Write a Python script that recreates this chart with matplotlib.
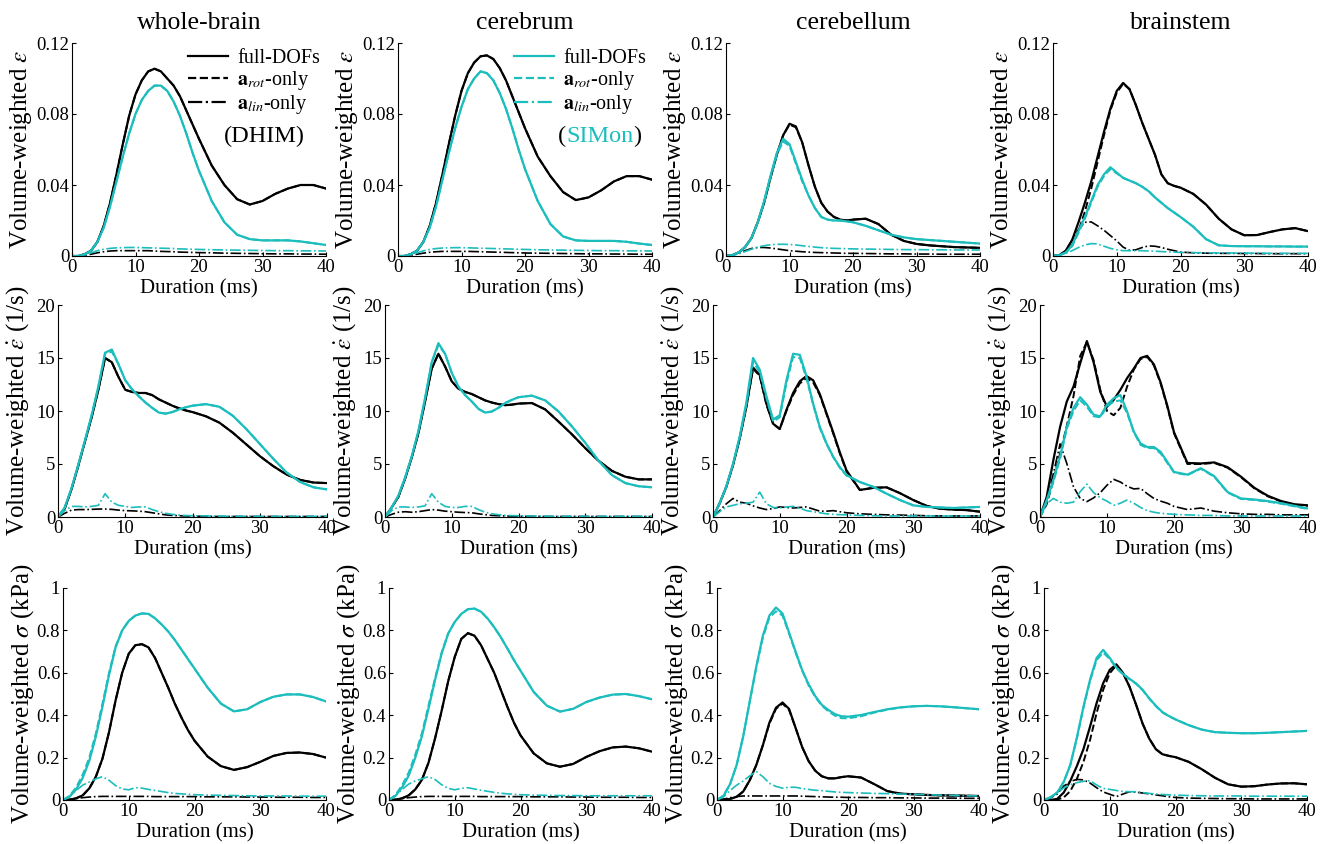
import matplotlib.pyplot as plt
from matplotlib.lines import Line2D

plt.rcParams["font.family"] = "Liberation Serif"
plt.rcParams["mathtext.fontset"] = "stix"

CYAN = "#1CBDBD"

# time axis (ms): 1 ms steps up to 20 ms, then 2 ms steps
T = list(range(0, 21)) + list(range(22, 41, 2))

REGIONS = ["whole-brain", "cerebrum", "cerebellum", "brainstem"]

# ---------------- volume-weighted strain ----------------
WB_EPS_DHIM_FULL = [0, 0, 0.001, 0.003, 0.008, 0.017, 0.030, 0.046, 0.063, 0.079, 0.091, 0.099, 0.104, 0.1055, 0.104, 0.100, 0.096, 0.090, 0.082, 0.074, 0.066,
                    0.051, 0.040, 0.032, 0.029, 0.031, 0.035, 0.038, 0.040, 0.040, 0.038]
WB_EPS_DHIM_ROT = [0, 0, 0.001, 0.003, 0.008, 0.017, 0.030, 0.046, 0.063, 0.079, 0.091, 0.099, 0.104, 0.1055, 0.104, 0.100, 0.096, 0.090, 0.082, 0.074, 0.066,
                   0.051, 0.040, 0.032, 0.029, 0.031, 0.035, 0.038, 0.040, 0.040, 0.038]
WB_EPS_DHIM_LIN = [0, 0, 0.0005, 0.001, 0.0018, 0.0024, 0.0028, 0.003, 0.003, 0.003, 0.003, 0.003, 0.003, 0.0028, 0.0026, 0.0025, 0.0024, 0.0022, 0.0021, 0.002, 0.0019,
                   0.0018, 0.0016, 0.0015, 0.0014, 0.0013, 0.0012, 0.0012, 0.0011, 0.0011, 0.001]
WB_EPS_SIMON_FULL = [0, 0, 0.001, 0.003, 0.008, 0.016, 0.028, 0.042, 0.056, 0.069, 0.080, 0.088, 0.093, 0.096, 0.096, 0.093, 0.087, 0.079, 0.069, 0.058, 0.048,
                     0.031, 0.019, 0.012, 0.0095, 0.0088, 0.0088, 0.0088, 0.0082, 0.0072, 0.0062]
WB_EPS_SIMON_ROT = [0, 0, 0.001, 0.003, 0.008, 0.016, 0.028, 0.042, 0.056, 0.069, 0.080, 0.088, 0.093, 0.096, 0.096, 0.093, 0.087, 0.079, 0.069, 0.058, 0.048,
                    0.031, 0.019, 0.012, 0.0095, 0.0088, 0.0088, 0.0088, 0.0082, 0.0072, 0.0062]
WB_EPS_SIMON_LIN = [0, 0, 0.0008, 0.0018, 0.003, 0.0038, 0.0043, 0.0046, 0.0047, 0.0048, 0.0048, 0.0047, 0.0046, 0.0045, 0.0044, 0.0043, 0.0042, 0.004, 0.0039, 0.0038, 0.0037,
                    0.0035, 0.0034, 0.0033, 0.0032, 0.0031, 0.003, 0.003, 0.0029, 0.0029, 0.0028]

CR_EPS_DHIM_FULL = [0, 0, 0.001, 0.003, 0.008, 0.017, 0.030, 0.046, 0.063, 0.079, 0.093, 0.103, 0.109, 0.1125, 0.113, 0.111, 0.106, 0.099, 0.090, 0.081, 0.072,
                    0.056, 0.045, 0.036, 0.0315, 0.033, 0.037, 0.042, 0.045, 0.045, 0.043]
CR_EPS_DHIM_ROT = [0, 0, 0.001, 0.003, 0.008, 0.017, 0.030, 0.046, 0.063, 0.079, 0.093, 0.103, 0.109, 0.1125, 0.113, 0.111, 0.106, 0.099, 0.090, 0.081, 0.072,
                   0.056, 0.045, 0.036, 0.0315, 0.033, 0.037, 0.042, 0.045, 0.045, 0.043]
CR_EPS_DHIM_LIN = [0, 0, 0.0005, 0.001, 0.0016, 0.0021, 0.0024, 0.0026, 0.0026, 0.0026, 0.0026, 0.0026, 0.0025, 0.0024, 0.0023, 0.0022, 0.0021, 0.002, 0.0019, 0.0018, 0.0017,
                   0.0016, 0.0015, 0.0014, 0.0013, 0.0012, 0.0012, 0.0011, 0.0011, 0.001, 0.001]
CR_EPS_SIMON_FULL = [0, 0, 0.001, 0.003, 0.008, 0.016, 0.028, 0.043, 0.058, 0.072, 0.084, 0.094, 0.100, 0.104, 0.103, 0.099, 0.092, 0.083, 0.072, 0.060, 0.049,
                     0.031, 0.018, 0.011, 0.0088, 0.0085, 0.0085, 0.0085, 0.008, 0.007, 0.0062]
CR_EPS_SIMON_ROT = [0, 0, 0.001, 0.003, 0.008, 0.016, 0.028, 0.043, 0.058, 0.072, 0.084, 0.094, 0.100, 0.104, 0.103, 0.099, 0.092, 0.083, 0.072, 0.060, 0.049,
                    0.031, 0.018, 0.011, 0.0088, 0.0085, 0.0085, 0.0085, 0.008, 0.007, 0.0062]
CR_EPS_SIMON_LIN = [0, 0, 0.0008, 0.0018, 0.0029, 0.0037, 0.0042, 0.0045, 0.0046, 0.0047, 0.0047, 0.0046, 0.0045, 0.0044, 0.0043, 0.0042, 0.0041, 0.004, 0.0039, 0.0038, 0.0037,
                    0.0035, 0.0034, 0.0033, 0.0032, 0.0031, 0.003, 0.003, 0.0029, 0.0029, 0.0028]

CL_EPS_DHIM_FULL = [0, 0.0005, 0.002, 0.005, 0.010, 0.019, 0.030, 0.044, 0.057, 0.068, 0.0745, 0.073, 0.064, 0.051, 0.039, 0.030, 0.025, 0.022, 0.0205, 0.020, 0.0205,
                    0.021, 0.018, 0.012, 0.0085, 0.0068, 0.006, 0.0055, 0.005, 0.0048, 0.0046]
CL_EPS_DHIM_ROT = [0, 0.0005, 0.002, 0.005, 0.010, 0.019, 0.030, 0.044, 0.057, 0.068, 0.074, 0.0725, 0.064, 0.051, 0.039, 0.030, 0.025, 0.022, 0.0205, 0.020, 0.0205,
                   0.021, 0.018, 0.012, 0.0085, 0.0068, 0.006, 0.0055, 0.005, 0.0048, 0.0046]
CL_EPS_DHIM_LIN = [0, 0.0005, 0.0015, 0.003, 0.0042, 0.0048, 0.0048, 0.0045, 0.004, 0.0035, 0.003, 0.0027, 0.0024, 0.0022, 0.002, 0.0019, 0.0018, 0.0017, 0.0016, 0.0015, 0.0015,
                   0.0014, 0.0013, 0.0012, 0.0012, 0.0011, 0.0011, 0.001, 0.001, 0.001, 0.001]
CL_EPS_SIMON_FULL = [0, 0.0005, 0.002, 0.005, 0.010, 0.019, 0.031, 0.045, 0.058, 0.066, 0.063, 0.053, 0.043, 0.034, 0.027, 0.022, 0.0205, 0.020, 0.020, 0.0195, 0.019,
                     0.017, 0.0145, 0.012, 0.0105, 0.0095, 0.009, 0.0085, 0.008, 0.0075, 0.007]
CL_EPS_SIMON_ROT = [0, 0.0005, 0.002, 0.005, 0.010, 0.019, 0.030, 0.044, 0.057, 0.0645, 0.062, 0.052, 0.042, 0.034, 0.027, 0.022, 0.0205, 0.020, 0.020, 0.0195, 0.019,
                    0.017, 0.0145, 0.012, 0.0105, 0.0095, 0.009, 0.0085, 0.008, 0.0075, 0.007]
CL_EPS_SIMON_LIN = [0, 0.0004, 0.0012, 0.0025, 0.0038, 0.005, 0.0058, 0.0063, 0.0066, 0.0066, 0.0065, 0.0062, 0.0058, 0.0054, 0.005, 0.0047, 0.0045, 0.0043, 0.0042, 0.0041, 0.004,
                    0.0039, 0.0038, 0.0037, 0.0036, 0.0036, 0.0035, 0.0035, 0.0034, 0.0034, 0.0034]

BS_EPS_DHIM_FULL = [0, 0.0005, 0.003, 0.009, 0.019, 0.030, 0.042, 0.056, 0.070, 0.083, 0.093, 0.0975, 0.094, 0.085, 0.075, 0.066, 0.057, 0.046, 0.041, 0.0395, 0.0385,
                    0.035, 0.029, 0.021, 0.015, 0.0117, 0.0118, 0.0135, 0.015, 0.0157, 0.014]
BS_EPS_DHIM_ROT = [0, 0.0003, 0.002, 0.006, 0.014, 0.025, 0.038, 0.053, 0.068, 0.082, 0.092, 0.097, 0.094, 0.085, 0.075, 0.066, 0.057, 0.046, 0.041, 0.0395, 0.0385,
                   0.035, 0.029, 0.021, 0.015, 0.0117, 0.0118, 0.0135, 0.015, 0.0157, 0.014]
BS_EPS_DHIM_LIN = [0, 0.0005, 0.003, 0.009, 0.015, 0.019, 0.0192, 0.017, 0.0145, 0.0115, 0.0085, 0.005, 0.0032, 0.0035, 0.0048, 0.0057, 0.0055, 0.0048, 0.0038, 0.003, 0.0022,
                   0.0018, 0.0016, 0.0015, 0.0015, 0.0014, 0.0014, 0.0013, 0.0013, 0.0013, 0.0013]
BS_EPS_SIMON_FULL = [0, 0.0005, 0.002, 0.006, 0.014, 0.022, 0.031, 0.040, 0.046, 0.050, 0.047, 0.044, 0.0425, 0.041, 0.039, 0.0365, 0.033, 0.030, 0.027, 0.0245, 0.022,
                     0.0165, 0.0095, 0.006, 0.0056, 0.0055, 0.0055, 0.0054, 0.0054, 0.0053, 0.0053]
BS_EPS_SIMON_ROT = [0, 0.0004, 0.0018, 0.0055, 0.013, 0.021, 0.030, 0.039, 0.045, 0.049, 0.0465, 0.044, 0.0425, 0.041, 0.039, 0.0365, 0.033, 0.030, 0.027, 0.0245, 0.022,
                    0.0165, 0.0095, 0.006, 0.0056, 0.0055, 0.0055, 0.0054, 0.0054, 0.0053, 0.0053]
BS_EPS_SIMON_LIN = [0, 0.0003, 0.0015, 0.003, 0.0048, 0.0062, 0.007, 0.0068, 0.0055, 0.0043, 0.0035, 0.003, 0.003, 0.003, 0.003, 0.0028, 0.0027, 0.0025, 0.0023, 0.0022, 0.002,
                    0.0019, 0.0018, 0.0017, 0.0017, 0.0016, 0.0016, 0.0015, 0.0015, 0.0015, 0.0015]

# ---------------- volume-weighted strain rate (1/s) ----------------
WB_RATE_DHIM_FULL = [0, 0.8, 2.6, 4.8, 7.1, 9.4, 12.0, 15.0, 14.6, 13.2, 12.0, 11.8, 11.7, 11.7, 11.5, 11.1, 10.8, 10.5, 10.25, 10.05, 9.9,
                     9.5, 8.9, 7.95, 6.85, 5.75, 4.8, 4.0, 3.5, 3.25, 3.2]
WB_RATE_DHIM_ROT = [0, 0.8, 2.6, 4.8, 7.1, 9.4, 12.0, 15.0, 14.6, 13.2, 12.0, 11.8, 11.7, 11.7, 11.5, 11.1, 10.8, 10.5, 10.25, 10.05, 9.9,
                    9.5, 8.9, 7.95, 6.85, 5.75, 4.8, 4.0, 3.5, 3.25, 3.2]
WB_RATE_DHIM_LIN = [0, 0.35, 0.65, 0.7, 0.7, 0.72, 0.75, 0.75, 0.72, 0.65, 0.6, 0.58, 0.55, 0.5, 0.4, 0.3, 0.2, 0.15, 0.12, 0.1, 0.08,
                    0.06, 0.05, 0.05, 0.05, 0.05, 0.05, 0.05, 0.05, 0.05, 0.05]
WB_RATE_SIMON_FULL = [0, 0.9, 2.7, 4.9, 7.2, 9.6, 12.3, 15.5, 15.8, 14.4, 12.9, 12.05, 11.4, 10.8, 10.3, 9.85, 9.75, 9.9, 10.15, 10.35, 10.5,
                      10.65, 10.4, 9.55, 8.3, 6.9, 5.5, 4.2, 3.3, 2.8, 2.6]
WB_RATE_SIMON_ROT = [0, 0.9, 2.7, 4.9, 7.2, 9.6, 12.3, 15.4, 15.6, 14.4, 12.9, 12.05, 11.4, 10.8, 10.3, 9.85, 9.75, 9.9, 10.15, 10.35, 10.5,
                     10.65, 10.4, 9.55, 8.3, 6.9, 5.5, 4.2, 3.3, 2.8, 2.6]
WB_RATE_SIMON_LIN = [0, 0.6, 1.0, 1.0, 0.95, 1.0, 1.1, 2.2, 1.4, 1.1, 1.0, 0.9, 0.95, 0.95, 0.7, 0.5, 0.35, 0.25, 0.18, 0.14, 0.12,
                     0.1, 0.08, 0.07, 0.07, 0.06, 0.06, 0.06, 0.06, 0.06, 0.06]

CR_RATE_DHIM_FULL = [0, 0.9, 1.9, 3.6, 5.6, 7.9, 10.9, 14.0, 15.4, 14.2, 12.8, 12.1, 11.8, 11.6, 11.3, 11.0, 10.8, 10.65, 10.55, 10.6, 10.7,
                     10.75, 10.15, 9.0, 7.8, 6.5, 5.3, 4.35, 3.8, 3.55, 3.55]
CR_RATE_DHIM_ROT = [0, 0.9, 1.9, 3.6, 5.6, 7.9, 10.9, 14.0, 15.4, 14.2, 12.8, 12.1, 11.8, 11.6, 11.3, 11.0, 10.8, 10.65, 10.55, 10.6, 10.7,
                    10.75, 10.15, 9.0, 7.8, 6.5, 5.3, 4.35, 3.8, 3.55, 3.55]
CR_RATE_DHIM_LIN = [0, 0.25, 0.45, 0.5, 0.45, 0.5, 0.6, 0.7, 0.65, 0.55, 0.5, 0.45, 0.42, 0.4, 0.3, 0.22, 0.15, 0.12, 0.1, 0.08, 0.07,
                    0.06, 0.05, 0.05, 0.05, 0.05, 0.05, 0.05, 0.05, 0.05, 0.05]
CR_RATE_SIMON_FULL = [0, 0.9, 2.0, 3.7, 5.7, 8.1, 11.2, 14.6, 16.4, 15.4, 13.6, 12.3, 11.5, 10.9, 10.2, 9.85, 9.95, 10.3, 10.75, 11.05, 11.3,
                      11.45, 11.0, 9.95, 8.55, 7.0, 5.3, 3.95, 3.2, 2.9, 2.8]
CR_RATE_SIMON_ROT = [0, 0.9, 2.0, 3.7, 5.7, 8.1, 11.2, 14.6, 16.2, 15.4, 13.6, 12.3, 11.5, 10.9, 10.2, 9.85, 9.95, 10.3, 10.75, 11.05, 11.3,
                     11.45, 11.0, 9.95, 8.55, 7.0, 5.3, 3.95, 3.2, 2.9, 2.8]
CR_RATE_SIMON_LIN = [0, 0.6, 0.95, 0.95, 0.9, 0.95, 1.05, 2.2, 1.4, 1.0, 0.9, 0.9, 1.0, 1.0, 0.7, 0.45, 0.3, 0.22, 0.16, 0.13, 0.11,
                     0.09, 0.08, 0.07, 0.07, 0.06, 0.06, 0.06, 0.06, 0.06, 0.06]

CL_RATE_DHIM_FULL = [0, 1.3, 2.85, 4.9, 7.4, 10.4, 14.1, 13.4, 10.7, 8.8, 8.3, 10.1, 11.7, 12.8, 13.3, 12.9, 11.6, 9.8, 8.0, 6.1, 4.4,
                     2.55, 2.75, 2.8, 2.25, 1.6, 1.05, 0.78, 0.7, 0.65, 0.5]
CL_RATE_DHIM_ROT = [0, 1.3, 2.85, 4.9, 7.4, 10.4, 14.0, 13.3, 10.6, 8.8, 8.3, 10.0, 11.5, 12.6, 13.1, 12.7, 11.5, 9.7, 7.9, 6.0, 4.3,
                    2.55, 2.75, 2.8, 2.25, 1.6, 1.05, 0.78, 0.7, 0.65, 0.5]
CL_RATE_DHIM_LIN = [0, 0.6, 1.25, 1.75, 1.4, 1.3, 1.05, 0.85, 0.7, 0.8, 0.95, 0.9, 0.85, 0.9, 0.95, 0.75, 0.55, 0.55, 0.6, 0.5, 0.4,
                    0.3, 0.25, 0.2, 0.18, 0.15, 0.12, 0.1, 0.1, 0.1, 0.1]
CL_RATE_SIMON_FULL = [0, 1.3, 2.9, 5.0, 7.6, 10.8, 15.0, 13.9, 11.4, 9.2, 9.6, 12.9, 15.4, 15.3, 13.3, 10.7, 8.5, 6.95, 5.7, 4.7, 3.95,
                      3.3, 2.85, 2.2, 1.6, 1.1, 0.95, 0.9, 0.85, 0.9, 0.95]
CL_RATE_SIMON_ROT = [0, 1.3, 2.9, 5.0, 7.5, 10.6, 14.6, 13.7, 11.2, 9.0, 9.4, 12.6, 15.1, 15.0, 13.1, 10.6, 8.4, 6.9, 5.65, 4.65, 3.9,
                     3.3, 2.85, 2.2, 1.6, 1.1, 0.95, 0.9, 0.85, 0.9, 0.95]
CL_RATE_SIMON_LIN = [0, 0.5, 0.95, 1.1, 1.25, 1.3, 1.4, 2.35, 1.25, 0.9, 0.85, 0.95, 1.0, 0.85, 0.6, 0.5, 0.4, 0.3, 0.25, 0.22, 0.2,
                     0.15, 0.12, 0.1, 0.1, 0.1, 0.1, 0.1, 0.1, 0.1, 0.1]

BS_RATE_DHIM_FULL = [0, 1.9, 5.4, 8.5, 10.9, 12.3, 14.5, 16.6, 14.6, 11.8, 10.4, 11.05, 12.0, 13.1, 14.0, 15.0, 15.2, 14.4, 12.7, 10.5, 8.0,
                     5.1, 5.05, 5.15, 4.7, 3.8, 2.75, 2.0, 1.5, 1.2, 1.1]
BS_RATE_DHIM_ROT = [0, 1.2, 3.5, 6.0, 8.6, 11.4, 15.2, 16.5, 14.8, 12.0, 10.0, 9.6, 10.3, 12.3, 13.9, 14.9, 15.1, 14.3, 12.6, 10.4, 7.9,
                    5.0, 5.0, 5.1, 4.65, 3.75, 2.7, 1.95, 1.45, 1.15, 1.05]
BS_RATE_DHIM_LIN = [0, 1.6, 4.1, 6.9, 5.05, 2.85, 1.75, 1.45, 1.8, 2.3, 3.0, 3.55, 3.3, 2.9, 2.65, 2.7, 2.2, 1.75, 1.5, 1.3, 1.0,
                    0.7, 0.85, 0.55, 0.4, 0.3, 0.25, 0.25, 0.2, 0.2, 0.2]
BS_RATE_SIMON_FULL = [0, 1.6, 3.5, 5.7, 8.5, 10.3, 11.3, 10.6, 9.65, 9.5, 10.6, 11.2, 11.5, 9.95, 8.05, 6.95, 6.6, 6.6, 6.15, 5.2, 4.25,
                      4.0, 4.6, 3.85, 2.35, 1.75, 1.65, 1.5, 1.3, 1.05, 0.8]
BS_RATE_SIMON_ROT = [0, 1.4, 3.3, 5.5, 8.3, 10.0, 11.0, 10.4, 9.5, 9.4, 10.4, 10.9, 11.0, 9.8, 8.0, 6.8, 6.5, 6.5, 6.0, 5.1, 4.2,
                     3.95, 4.55, 3.8, 2.3, 1.7, 1.6, 1.45, 1.25, 1.0, 0.75]
BS_RATE_SIMON_LIN = [0, 1.25, 1.75, 1.4, 1.3, 1.4, 2.4, 3.1, 2.3, 1.8, 1.5, 1.1, 1.3, 1.6, 1.3, 0.9, 0.6, 0.45, 0.35, 0.3, 0.25,
                     0.2, 0.15, 0.15, 0.1, 0.1, 0.1, 0.1, 0.1, 0.1, 0.1]

# ---------------- volume-weighted stress (kPa) ----------------
WB_SIG_DHIM_FULL = [0, 0.001, 0.008, 0.022, 0.055, 0.11, 0.195, 0.32, 0.47, 0.60, 0.69, 0.73, 0.735, 0.72, 0.67, 0.60, 0.53, 0.455, 0.39, 0.33, 0.28,
                    0.205, 0.16, 0.142, 0.155, 0.18, 0.208, 0.222, 0.224, 0.217, 0.2]
WB_SIG_DHIM_ROT = [0, 0.001, 0.008, 0.022, 0.055, 0.11, 0.195, 0.32, 0.47, 0.60, 0.69, 0.73, 0.735, 0.72, 0.67, 0.60, 0.53, 0.455, 0.39, 0.33, 0.28,
                   0.205, 0.16, 0.142, 0.155, 0.18, 0.208, 0.222, 0.224, 0.217, 0.2]
WB_SIG_DHIM_LIN = [0, 0.003, 0.007, 0.011, 0.014, 0.016, 0.017, 0.017, 0.017, 0.017, 0.017, 0.017, 0.017, 0.017, 0.016, 0.016, 0.016, 0.016, 0.016, 0.016, 0.016,
                   0.015, 0.015, 0.015, 0.014, 0.014, 0.013, 0.013, 0.013, 0.012, 0.012]
WB_SIG_SIMON_FULL = [0, 0.015, 0.05, 0.105, 0.185, 0.3, 0.44, 0.59, 0.72, 0.8, 0.845, 0.87, 0.88, 0.878, 0.857, 0.828, 0.795, 0.755, 0.71, 0.665, 0.62,
                     0.53, 0.455, 0.418, 0.428, 0.462, 0.487, 0.498, 0.498, 0.486, 0.465]
WB_SIG_SIMON_ROT = [0, 0.02, 0.06, 0.12, 0.2, 0.315, 0.455, 0.6, 0.725, 0.8, 0.845, 0.87, 0.88, 0.878, 0.857, 0.828, 0.795, 0.755, 0.71, 0.665, 0.62,
                    0.53, 0.455, 0.418, 0.428, 0.462, 0.487, 0.498, 0.498, 0.486, 0.465]
WB_SIG_SIMON_LIN = [0, 0.018, 0.045, 0.07, 0.085, 0.1, 0.11, 0.093, 0.068, 0.052, 0.048, 0.058, 0.056, 0.05, 0.045, 0.04, 0.035, 0.031, 0.029, 0.027, 0.025,
                    0.023, 0.022, 0.021, 0.02, 0.019, 0.019, 0.019, 0.018, 0.018, 0.018]

CR_SIG_DHIM_FULL = [0, 0.001, 0.008, 0.022, 0.05, 0.095, 0.175, 0.29, 0.42, 0.56, 0.675, 0.76, 0.787, 0.775, 0.73, 0.665, 0.6, 0.52, 0.44, 0.365, 0.305,
                    0.22, 0.173, 0.157, 0.17, 0.203, 0.23, 0.248, 0.252, 0.244, 0.228]
CR_SIG_DHIM_ROT = [0, 0.001, 0.008, 0.022, 0.05, 0.095, 0.175, 0.29, 0.42, 0.56, 0.675, 0.76, 0.787, 0.775, 0.73, 0.665, 0.6, 0.52, 0.44, 0.365, 0.305,
                   0.22, 0.173, 0.157, 0.17, 0.203, 0.23, 0.248, 0.252, 0.244, 0.228]
CR_SIG_DHIM_LIN = [0, 0.003, 0.007, 0.011, 0.014, 0.016, 0.017, 0.017, 0.017, 0.017, 0.017, 0.017, 0.017, 0.017, 0.016, 0.016, 0.016, 0.016, 0.016, 0.016, 0.016,
                   0.015, 0.015, 0.015, 0.014, 0.014, 0.013, 0.013, 0.013, 0.012, 0.012]
CR_SIG_SIMON_FULL = [0, 0.02, 0.06, 0.115, 0.2, 0.3, 0.43, 0.565, 0.69, 0.785, 0.84, 0.878, 0.9, 0.903, 0.888, 0.856, 0.815, 0.768, 0.715, 0.66, 0.61,
                     0.51, 0.445, 0.417, 0.43, 0.462, 0.483, 0.497, 0.5, 0.49, 0.475]
CR_SIG_SIMON_ROT = [0, 0.025, 0.07, 0.13, 0.215, 0.315, 0.445, 0.575, 0.695, 0.785, 0.84, 0.878, 0.9, 0.903, 0.888, 0.856, 0.815, 0.768, 0.715, 0.66, 0.61,
                    0.51, 0.445, 0.417, 0.43, 0.462, 0.483, 0.497, 0.5, 0.49, 0.475]
CR_SIG_SIMON_LIN = [0, 0.02, 0.05, 0.075, 0.09, 0.1, 0.11, 0.097, 0.072, 0.055, 0.048, 0.055, 0.058, 0.052, 0.046, 0.041, 0.036, 0.032, 0.029, 0.027, 0.025,
                    0.023, 0.022, 0.021, 0.021, 0.02, 0.02, 0.02, 0.02, 0.02, 0.02]

CL_SIG_DHIM_FULL = [0, 0.001, 0.005, 0.015, 0.04, 0.093, 0.165, 0.258, 0.365, 0.435, 0.46, 0.43, 0.34, 0.25, 0.183, 0.138, 0.112, 0.102, 0.102, 0.108, 0.112,
                    0.106, 0.075, 0.042, 0.03, 0.027, 0.024, 0.022, 0.021, 0.02, 0.019]
CL_SIG_DHIM_ROT = [0, 0.001, 0.005, 0.015, 0.04, 0.093, 0.165, 0.258, 0.36, 0.43, 0.455, 0.425, 0.34, 0.25, 0.183, 0.138, 0.112, 0.102, 0.102, 0.108, 0.112,
                   0.106, 0.075, 0.042, 0.03, 0.027, 0.024, 0.022, 0.021, 0.02, 0.019]
CL_SIG_DHIM_LIN = [0, 0.004, 0.011, 0.016, 0.019, 0.019, 0.019, 0.019, 0.019, 0.019, 0.019, 0.019, 0.019, 0.018, 0.017, 0.016, 0.015, 0.014, 0.013, 0.013, 0.012,
                   0.012, 0.011, 0.011, 0.01, 0.01, 0.009, 0.009, 0.009, 0.008, 0.008]
CL_SIG_SIMON_FULL = [0, 0.02, 0.075, 0.165, 0.3, 0.465, 0.63, 0.775, 0.87, 0.908, 0.88, 0.79, 0.7, 0.613, 0.545, 0.49, 0.449, 0.425, 0.405, 0.395, 0.393,
                     0.401, 0.415, 0.428, 0.437, 0.442, 0.444, 0.442, 0.438, 0.433, 0.428]
CL_SIG_SIMON_ROT = [0, 0.02, 0.075, 0.165, 0.3, 0.465, 0.625, 0.765, 0.86, 0.89, 0.87, 0.785, 0.695, 0.61, 0.54, 0.485, 0.445, 0.418, 0.398, 0.386, 0.385,
                    0.395, 0.412, 0.426, 0.436, 0.442, 0.444, 0.442, 0.438, 0.433, 0.428]
CL_SIG_SIMON_LIN = [0, 0.015, 0.045, 0.07, 0.09, 0.114, 0.134, 0.11, 0.079, 0.064, 0.056, 0.06, 0.06, 0.054, 0.05, 0.046, 0.044, 0.041, 0.038, 0.036, 0.035,
                    0.033, 0.031, 0.03, 0.028, 0.027, 0.025, 0.023, 0.022, 0.02, 0.019]

BS_SIG_DHIM_FULL = [0, 0.0, 0.005, 0.035, 0.09, 0.16, 0.24, 0.346, 0.457, 0.551, 0.614, 0.64, 0.6, 0.535, 0.45, 0.36, 0.29, 0.24, 0.216, 0.208, 0.202,
                    0.18, 0.145, 0.105, 0.074, 0.063, 0.065, 0.073, 0.078, 0.079, 0.074]
BS_SIG_DHIM_ROT = [0, 0.0, 0.002, 0.012, 0.042, 0.1, 0.18, 0.283, 0.41, 0.52, 0.598, 0.635, 0.6, 0.535, 0.45, 0.36, 0.29, 0.24, 0.216, 0.208, 0.202,
                   0.18, 0.145, 0.105, 0.074, 0.063, 0.065, 0.073, 0.078, 0.079, 0.074]
BS_SIG_DHIM_LIN = [0, 0.01, 0.028, 0.065, 0.088, 0.097, 0.095, 0.08, 0.058, 0.038, 0.027, 0.016, 0.028, 0.039, 0.037, 0.033, 0.029, 0.024, 0.02, 0.015, 0.012,
                   0.009, 0.008, 0.007, 0.006, 0.006, 0.005, 0.005, 0.005, 0.005, 0.005]
BS_SIG_SIMON_FULL = [0, 0.012, 0.035, 0.085, 0.165, 0.295, 0.44, 0.567, 0.67, 0.708, 0.67, 0.625, 0.595, 0.572, 0.55, 0.52, 0.48, 0.445, 0.415, 0.396, 0.38,
                     0.353, 0.332, 0.32, 0.317, 0.315, 0.315, 0.317, 0.32, 0.323, 0.326]
BS_SIG_SIMON_ROT = [0, 0.012, 0.035, 0.085, 0.165, 0.29, 0.435, 0.56, 0.66, 0.695, 0.665, 0.622, 0.593, 0.57, 0.548, 0.518, 0.478, 0.443, 0.413, 0.395, 0.38,
                    0.353, 0.332, 0.32, 0.317, 0.315, 0.315, 0.317, 0.32, 0.323, 0.326]
BS_SIG_SIMON_LIN = [0, 0.015, 0.035, 0.057, 0.072, 0.082, 0.088, 0.091, 0.071, 0.055, 0.05, 0.045, 0.04, 0.039, 0.039, 0.035, 0.031, 0.028, 0.026, 0.024, 0.023,
                    0.021, 0.02, 0.019, 0.019, 0.019, 0.018, 0.018, 0.018, 0.018, 0.018]

# one entry per panel: (DHIM full, rot, lin), (SIMon full, rot, lin)
PANELS = [
    [
        ((WB_EPS_DHIM_FULL, WB_EPS_DHIM_ROT, WB_EPS_DHIM_LIN), (WB_EPS_SIMON_FULL, WB_EPS_SIMON_ROT, WB_EPS_SIMON_LIN)),
        ((CR_EPS_DHIM_FULL, CR_EPS_DHIM_ROT, CR_EPS_DHIM_LIN), (CR_EPS_SIMON_FULL, CR_EPS_SIMON_ROT, CR_EPS_SIMON_LIN)),
        ((CL_EPS_DHIM_FULL, CL_EPS_DHIM_ROT, CL_EPS_DHIM_LIN), (CL_EPS_SIMON_FULL, CL_EPS_SIMON_ROT, CL_EPS_SIMON_LIN)),
        ((BS_EPS_DHIM_FULL, BS_EPS_DHIM_ROT, BS_EPS_DHIM_LIN), (BS_EPS_SIMON_FULL, BS_EPS_SIMON_ROT, BS_EPS_SIMON_LIN)),
    ],
    [
        ((WB_RATE_DHIM_FULL, WB_RATE_DHIM_ROT, WB_RATE_DHIM_LIN), (WB_RATE_SIMON_FULL, WB_RATE_SIMON_ROT, WB_RATE_SIMON_LIN)),
        ((CR_RATE_DHIM_FULL, CR_RATE_DHIM_ROT, CR_RATE_DHIM_LIN), (CR_RATE_SIMON_FULL, CR_RATE_SIMON_ROT, CR_RATE_SIMON_LIN)),
        ((CL_RATE_DHIM_FULL, CL_RATE_DHIM_ROT, CL_RATE_DHIM_LIN), (CL_RATE_SIMON_FULL, CL_RATE_SIMON_ROT, CL_RATE_SIMON_LIN)),
        ((BS_RATE_DHIM_FULL, BS_RATE_DHIM_ROT, BS_RATE_DHIM_LIN), (BS_RATE_SIMON_FULL, BS_RATE_SIMON_ROT, BS_RATE_SIMON_LIN)),
    ],
    [
        ((WB_SIG_DHIM_FULL, WB_SIG_DHIM_ROT, WB_SIG_DHIM_LIN), (WB_SIG_SIMON_FULL, WB_SIG_SIMON_ROT, WB_SIG_SIMON_LIN)),
        ((CR_SIG_DHIM_FULL, CR_SIG_DHIM_ROT, CR_SIG_DHIM_LIN), (CR_SIG_SIMON_FULL, CR_SIG_SIMON_ROT, CR_SIG_SIMON_LIN)),
        ((CL_SIG_DHIM_FULL, CL_SIG_DHIM_ROT, CL_SIG_DHIM_LIN), (CL_SIG_SIMON_FULL, CL_SIG_SIMON_ROT, CL_SIG_SIMON_LIN)),
        ((BS_SIG_DHIM_FULL, BS_SIG_DHIM_ROT, BS_SIG_DHIM_LIN), (BS_SIG_SIMON_FULL, BS_SIG_SIMON_ROT, BS_SIG_SIMON_LIN)),
    ],
]

YLABELS = [
    r"Volume-weighted $\varepsilon$",
    r"Volume-weighted $\dot{\varepsilon}$ (1/s)",
    r"Volume-weighted $\sigma$ (kPa)",
]
YTICKS = [[0, 0.04, 0.08, 0.12], [0, 5, 10, 15, 20], [0, 0.2, 0.4, 0.6, 0.8, 1]]
YTICKLABELS = [["0", "0.04", "0.08", "0.12"], ["0", "5", "10", "15", "20"],
               ["0", "0.2", "0.4", "0.6", "0.8", "1"]]
XTICKS = [0, 10, 20, 30, 40]
LEGEND_LABELS = ["full-DOFs", r"$\mathbf{a}_{\mathit{rot}}$-only", r"$\mathbf{a}_{\mathit{lin}}$-only"]

# panel placement in pixels
FIG_W, FIG_H = 1332, 844
ROW_SPAN = [(43, 256), (305, 517), (588, 800)]
COL_SPAN = [
    [(72, 326), (398, 652), (726, 980), (1053, 1308)],
    [(58, 327), (385, 652), (713, 980), (1040, 1308)],
    [(63, 326), (389, 652), (717, 979), (1044, 1307)],
]
YLABEL_GAP = [38, 27, 27]


def draw_panel(ax, dhim, simon):
    for color, (full, rot, lin) in (("black", dhim), (CYAN, simon)):
        ax.plot(T, full, color=color, linewidth=1.6, linestyle="-")
        ax.plot(T, rot, color=color, linewidth=1.4, linestyle="--")
        ax.plot(T, lin, color=color, linewidth=1.2, linestyle="-.")


fig = plt.figure(figsize=(FIG_W / 100, FIG_H / 100), dpi=100)
axes = []
for r in range(3):
    top, bottom = ROW_SPAN[r]
    row_axes = []
    for c in range(4):
        left, right = COL_SPAN[r][c]
        ax = fig.add_axes([left / FIG_W, (FIG_H - bottom) / FIG_H,
                           (right - left) / FIG_W, (bottom - top) / FIG_H])
        dhim, simon = PANELS[r][c]
        draw_panel(ax, dhim, simon)

        ax.set_xlim(0, 40)
        ax.set_ylim(0, YTICKS[r][-1])
        ax.set_xticks(XTICKS)
        ax.set_yticks(YTICKS[r])
        ax.set_yticklabels(YTICKLABELS[r])
        ax.spines[["top", "right"]].set_visible(False)
        ax.tick_params(direction="in", length=3, labelsize=13.5, pad=2)
        ax.set_xlabel("Duration (ms)", fontsize=15, labelpad=2.5)
        ax.set_ylabel(YLABELS[r], fontsize=18)
        ax.yaxis.set_label_coords(-YLABEL_GAP[r] / (right - left), 0.5)
        if r == 0:
            ax.set_title(REGIONS[c], fontsize=18.5, pad=10)
        row_axes.append(ax)
    axes.append(row_axes)

# legends for the two models
for ax, color in ((axes[0][0], "black"), (axes[0][1], CYAN)):
    handles = [Line2D([], [], color=color, linewidth=1.6, linestyle=ls) for ls in ("-", "--", "-.")]
    ax.legend(handles, LEGEND_LABELS, loc="upper right", bbox_to_anchor=(1.0, 1.0),
              frameon=False, fontsize=14.5, handlelength=2.0, handletextpad=0.45,
              labelspacing=0.05, borderaxespad=0, borderpad=0.3)

axes[0][0].text(0.756, 0.559, "(DHIM)", fontsize=17.5, ha="center", va="center",
                transform=axes[0][0].transAxes)
lp = axes[0][1].text(0.63, 0.559, "(", fontsize=17.5, ha="left", va="center",
                     transform=axes[0][1].transAxes)
name = axes[0][1].annotate("SIMon", xy=(1, 0.5), xycoords=lp, fontsize=17.5,
                           ha="left", va="center", color=CYAN)
axes[0][1].annotate(")", xy=(1, 0.5), xycoords=name, fontsize=17.5, ha="left", va="center")

fig.savefig("out.png", dpi=100)
